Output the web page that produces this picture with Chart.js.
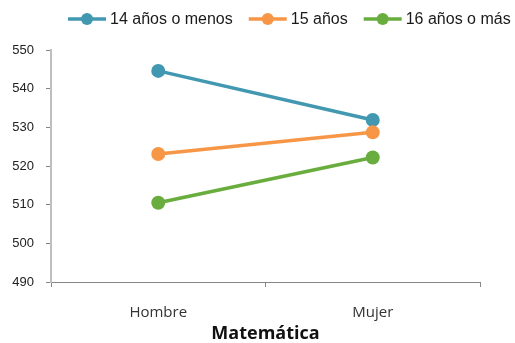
<!DOCTYPE html>
<html>
<head>
<meta charset="utf-8">
<script src="https://cdn.jsdelivr.net/npm/chart.js@4/dist/chart.umd.min.js"></script>
<style>
  body { margin: 0; background: #fff; }
  #wrap { width: 515px; height: 343px; position: relative; }
</style>
</head>
<body>
<div id="wrap"><canvas id="myChart"></canvas></div>
<script>
const categories = ["Hombre", "Mujer"];
const seriesNames = ["14 años o menos", "15 años", "16 años o más"];
const menos14 = [544.6, 531.9];
const anos15 = [523.1, 528.7];
const mas16 = [510.5, 522.2];
const yTicks = [490, 500, 510, 520, 530, 540, 550];
const varColors = ["#4198B0", "#F79646", "#69AD3F"];

const seriesValues = [menos14, anos15, mas16];

// legend drawn by hand: line with a dot, like the original
const lineLegend = {
    id: "lineLegend",
    afterDraw(chart) {
        const ctx = chart.ctx;
        ctx.save();
        ctx.font = "16px 'Liberation Sans', Arial, sans-serif";
        ctx.textBaseline = "middle";
        const y = 19;
        let x = 68;
        chart.data.datasets.forEach((ds) => {
            ctx.strokeStyle = ds.borderColor;
            ctx.lineWidth = 3.5;
            ctx.beginPath();
            ctx.moveTo(x, y);
            ctx.lineTo(x + 38, y);
            ctx.stroke();
            ctx.fillStyle = ds.borderColor;
            ctx.beginPath();
            ctx.arc(x + 19, y, 6, 0, Math.PI * 2);
            ctx.fill();
            ctx.fillStyle = "#1a1a1a";
            ctx.fillText(ds.label, x + 42, y + 1);
            x += 42 + ctx.measureText(ds.label).width + 16;
        });
        ctx.restore();
    }
};

new Chart("myChart", {
    type: "line",
    data: {
        labels: categories,
        datasets: seriesValues.map((vals, i) => ({
            label: seriesNames[i],
            data: vals,
            borderColor: varColors[i],
            backgroundColor: varColors[i],
            borderWidth: 3.5,
            pointRadius: 7,
            pointHoverRadius: 7,
            pointBorderWidth: 0,
            order: 3 - i
        }))
    },
    options: {
        responsive: true,
        maintainAspectRatio: false,
        animation: false,
        layout: { padding: { top: 50, right: 35, left: 0, bottom: 0 } },
        plugins: {
            legend: { display: false },
            tooltip: { enabled: false }
        },
        scales: {
            x: {
                offset: true,
                grid: {
                    offset: true,
                    drawOnChartArea: false,
                    drawTicks: true,
                    tickLength: 5,
                    color: "#868686"
                },
                border: { display: true, color: "#868686", width: 1 },
                ticks: {
                    padding: 17,
                    color: "#333",
                    font: { family: "'Open Sans', sans-serif", size: 15 }
                },
                title: {
                    display: true,
                    text: "Matemática",
                    color: "#111",
                    padding: { top: 0, bottom: 0 },
                    font: { family: "'Open Sans', sans-serif", size: 18, weight: "bold", lineHeight: 1 }
                },
                afterFit: (s) => { s.height = 61; }
            },
            y: {
                min: yTicks[0],
                max: yTicks[yTicks.length - 1],
                afterBuildTicks: (s) => { s.ticks = yTicks.map(v => ({ value: v })); },
                grid: {
                    drawOnChartArea: false,
                    drawTicks: true,
                    tickLength: 5,
                    color: "#868686"
                },
                border: { display: true, color: "#BFBFBF", width: 2 },
                ticks: {
                    padding: 12,
                    color: "#222",
                    font: { family: "'Liberation Sans', Arial, sans-serif", size: 13 }
                },
                afterFit: (s) => { s.width = 51; }
            }
        }
    },
    plugins: [lineLegend]
});
</script>
</body>
</html>
